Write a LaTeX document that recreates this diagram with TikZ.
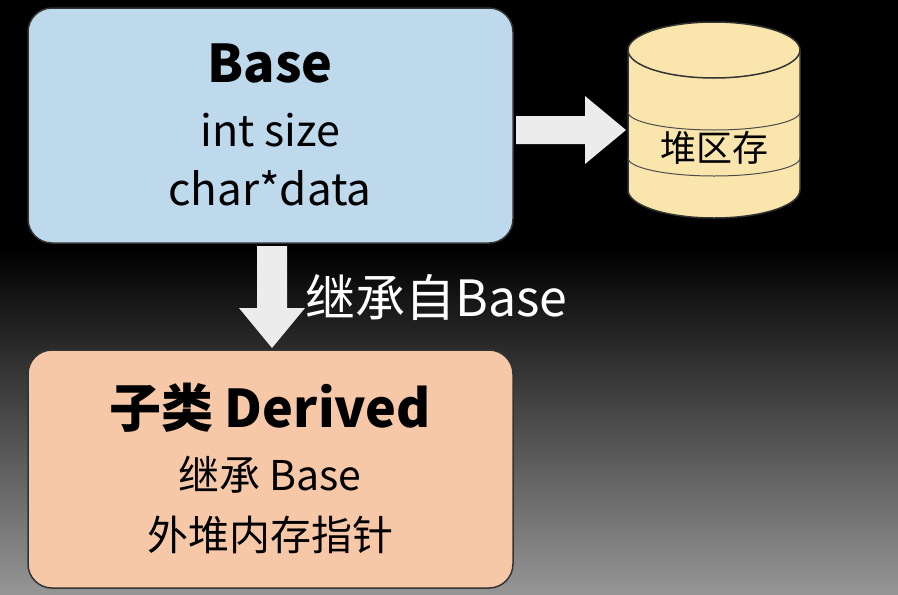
\documentclass[tikz,border=0pt]{standalone}
\usepackage{fontspec}
\setmainfont{Noto Sans CJK SC}
\usetikzlibrary{shapes.geometric}
\definecolor{bluebox}{RGB}{190,216,236}
\definecolor{peach}{RGB}{246,200,168}
\definecolor{cyl}{RGB}{250,230,172}
\definecolor{arr}{RGB}{236,236,236}
\definecolor{bgb}{RGB}{150,150,150}
\begin{document}
\begin{tikzpicture}[x=1pt,y=-1pt,
  box/.style={draw=black!80,line width=1.5pt,rounded corners=24pt},
  blk/.style={fill=arr,draw=none},
  txt/.style={text=black,inner sep=0pt}]
\useasboundingbox (0,0) rectangle (898,595);
\fill[black] (0,0) rectangle (898,250);
\shade[top color=black,bottom color=bgb] (0,249) rectangle (898,595);
% boxes
\draw[box,fill=bluebox] (28,8) rectangle (513,243);
\draw[box,fill=peach] (28,350) rectangle (513,588);
% cylinder
\fill[cyl,draw=black!80,line width=1.5pt] (628,50) -- (628,190) arc[start angle=180,end angle=0,x radius=86,y radius=28] -- (800,50) arc[start angle=0,end angle=-180,x radius=86,y radius=28] -- cycle;
\draw[black!80,line width=1.5pt] (628,50) arc[start angle=180,end angle=0,x radius=86,y radius=28];
\draw[black!70,line width=1pt] (628,112) arc[start angle=180,end angle=0,x radius=86,y radius=18];
\draw[black!70,line width=1pt] (628,158) arc[start angle=180,end angle=0,x radius=86,y radius=18];
\node[txt] (heap) at (714,148) {\fontsize{36}{40}\selectfont 堆区存};
% arrows
\fill[blk] (516,116) -- (585,116) -- (585,96) -- (626,130) -- (585,164) -- (585,144) -- (516,144) -- cycle;
\fill[blk] (257,246) -- (287,246) -- (287,308) -- (305,308) -- (272,348) -- (239,308) -- (257,308) -- cycle;
\node[txt,text=white,anchor=west] (inh) at (305,297) {\fontsize{50}{56}\selectfont 继承自Base};
% texts
\node[txt] (t1) at (270,63) {\fontsize{52}{58}\selectfont\bfseries Base};
\node[txt] (t2) at (270,130) {\fontsize{43}{48}\selectfont int size};
\node[txt] (t3) at (270,188) {\fontsize{44}{50}\selectfont char*data};
\node[txt] (d1) at (270,408) {\fontsize{52}{58}\selectfont\bfseries 子类 Derived};
\node[txt] (d2) at (270,475) {\fontsize{41}{46}\selectfont 继承 Base};
\node[txt] (d3) at (270,535) {\fontsize{41}{46}\selectfont 外堆内存指针};
\end{tikzpicture}
\end{document}
